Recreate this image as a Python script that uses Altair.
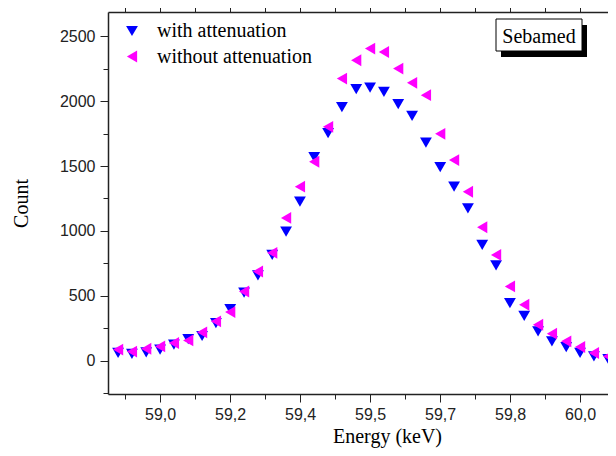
import altair as alt
import pandas as pd

energy = [58.900, 58.933, 58.967, 59.000, 59.033, 59.067, 59.100, 59.133, 59.167,
          59.200, 59.233, 59.267, 59.300, 59.333, 59.367, 59.400, 59.433, 59.467,
          59.500, 59.533, 59.567, 59.600, 59.633, 59.667, 59.700, 59.733, 59.767,
          59.800, 59.833, 59.867, 59.900, 59.933, 59.967, 60.000, 60.033, 60.067]

with_att = [60, 52, 64, 85, 123, 165, 190, 290, 397, 525, 657, 815, 995, 1226,
            1569, 1754, 1954, 2092, 2105, 2072, 1977, 1887, 1680, 1492, 1341, 1174,
            892, 735, 444, 346, 226, 149, 105, 59, 33, 12]

without_att = [85, 70, 92, 110, 136, 156, 218, 303, 374, 533, 687, 831, 1100, 1341,
               1533, 1802, 2174, 2315, 2405, 2379, 2251, 2141, 2046, 1748, 1546, 1302,
               1028, 815, 572, 431, 277, 208, 149, 105, 59, 33]

series_names = ["with attenuation", "without attenuation"]
series_colors = ["#0000FF", "#FF00FF"]
series_shapes = ["triangle-down", "triangle-left"]

x_tick_values = [58.91667, 59.0, 59.08333, 59.16667, 59.25, 59.33333, 59.41667, 59.5,
                 59.58333, 59.66667, 59.75, 59.83333, 59.91667, 60.0]
x_major_labels = ["59,0", "59,2", "59,4", "59,5", "59,7", "59,8", "60,0"]
y_tick_values = [-250, 0, 250, 500, 750, 1000, 1250, 1500, 1750, 2000, 2250, 2500]

annotation = pd.DataFrame({"label": ["Sebamed"]})

rows = []
for name, vals in zip(series_names, [with_att, without_att]):
    for e, v in zip(energy, vals):
        rows.append({"energy": e, "count": v, "series": name})
df = pd.DataFrame(rows)

lab_arr = "[" + ",".join("'" + s + "'" for s in x_major_labels) + "]"
x_label_expr = ("round((datum.value-59)*12) % 2 == 0 ? " + lab_arr +
                "[round((datum.value-59)*6)] : ''")
x_major_test = "round((datum.value-59)*12) % 2 == 0"

xscale = alt.Scale(domain=[58.876, 60.0665], nice=False, zero=False)
yscale = alt.Scale(domain=[-257, 2687], nice=False, zero=False)

points = alt.Chart(df).mark_point(filled=True, opacity=1, size=140).encode(
    x=alt.X("energy:Q", scale=xscale,
            axis=alt.Axis(orient="bottom", values=x_tick_values, labelExpr=x_label_expr,
                          tickSize={"condition": {"test": x_major_test, "value": 8}, "value": 5},
                          labelPadding=4, title="Energy (keV)", titleX=279, titleY=48.5,
                          titleBaseline="alphabetic", titleAnchor="start", titleAlign="center")),
    y=alt.Y("count:Q", scale=yscale,
            axis=alt.Axis(values=y_tick_values, format="d",
                          labelExpr="datum.value % 500 == 0 ? datum.label : ''",
                          tickSize={"condition": {"test": "datum.value % 500 == 0", "value": 8}, "value": 5},
                          labelPadding=5, title="Count", titleX=-81, titleY=191,
                          titleAngle=270, titleBaseline="alphabetic", titleAlign="center")),
    color=alt.Color("series:N", scale=alt.Scale(domain=series_names, range=series_colors),
                    legend=alt.Legend(orient="none", legendX=14, legendY=9, title=None)),
    shape=alt.Shape("series:N", scale=alt.Scale(domain=series_names, range=series_shapes),
                    legend=alt.Legend(orient="none", legendX=14, legendY=9, title=None)),
)

top_axis = alt.Chart(df).mark_point(opacity=0).encode(
    x=alt.X("energy:Q", scale=xscale,
            axis=alt.Axis(orient="top", values=x_tick_values, labels=False, tickSize=7,
                          title=None)),
    y=alt.Y("count:Q", scale=yscale, axis=None),
)

shadow = alt.Chart(annotation).mark_rect(color="black").encode(
    x=alt.value(393), x2=alt.value(479), y=alt.value(13), y2=alt.value(45))
box = alt.Chart(annotation).mark_rect(fill="white", stroke="black", strokeWidth=1).encode(
    x=alt.value(388), x2=alt.value(474), y=alt.value(7), y2=alt.value(39))
box_text = alt.Chart(annotation).mark_text(font="Liberation Serif", fontSize=20,
                                           color="black", baseline="alphabetic",
                                           align="center").encode(
    x=alt.value(431), y=alt.value(30.5), text="label:N")

chart = alt.layer(points, top_axis, shadow, box, box_text).resolve_axis(
    x="independent", y="independent"
).properties(
    width=500, height=382,
    autosize=alt.AutoSizeParams(type="none"),
    padding={"left": 100, "top": 4, "right": 0, "bottom": 54},
).configure_axis(
    labelFont="Liberation Sans", labelFontSize=16, labelColor="#222",
    titleFont="Liberation Serif", titleFontSize=20, titleColor="black",
    titleFontWeight="normal", domainColor="#222", domainWidth=1.5,
    tickColor="#222", tickWidth=1, grid=False,
).configure_legend(
    labelFont="Liberation Serif", labelFontSize=20, labelColor="black",
    symbolSize=140, symbolStrokeWidth=0, padding=0, labelOffset=15, rowPadding=5.5,
).configure_view(strokeWidth=0)

chart.save("out.html", embed_options={"renderer": "svg", "actions": False})
